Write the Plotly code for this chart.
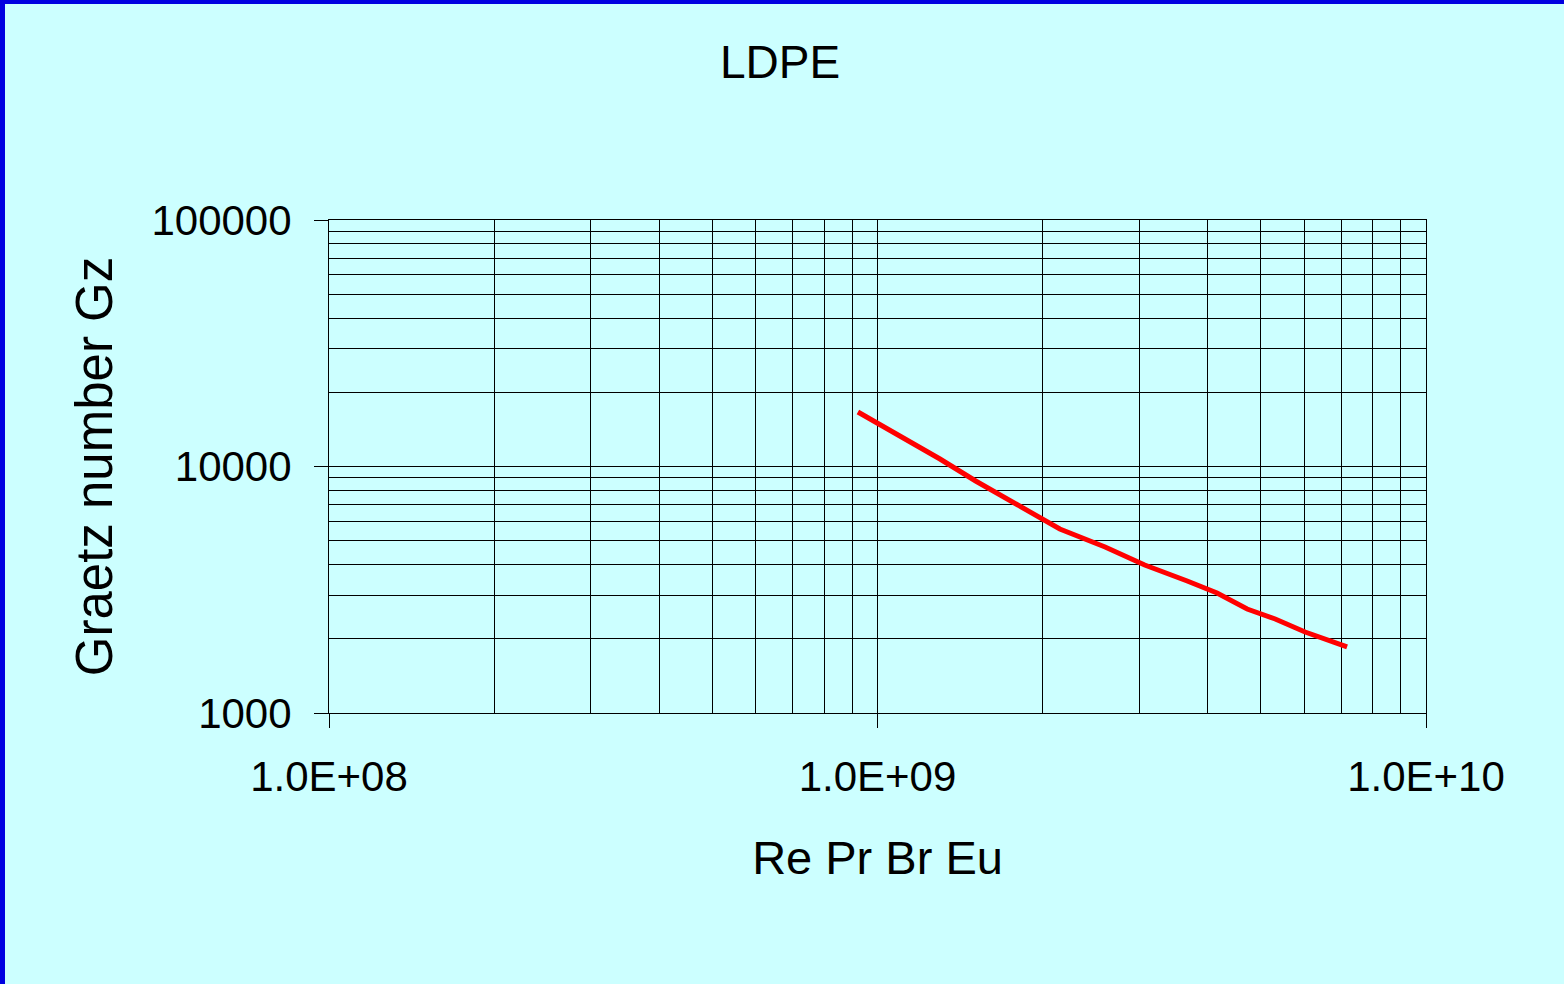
import plotly.graph_objects as go

# Data (log-log)
re_pr_br_eu = [9.21e8, 1.10e9, 1.30e9, 1.51e9, 1.77e9, 2.15e9, 2.60e9, 3.07e9,
               3.67e9, 4.16e9, 4.72e9, 5.31e9, 6.02e9, 7.18e9]
graetz = [16640, 13300, 10725, 8735, 7178, 5578, 4714, 3985,
          3432, 3068, 2642, 2406, 2131, 1853]

x_major = [1e8, 1e9, 1e10]
x_major_labels = ["1.0E+08", "1.0E+09", "1.0E+10"]
y_major = [1000, 10000, 100000]
y_major_labels = ["1000", "10000", "100000"]
x_minor = [m * d for d in (1e8, 1e9) for m in range(2, 10)]
y_minor = [m * d for d in (1e3, 1e4) for m in range(2, 10)]

W, H = 1564, 984
L, R, T, B = 329, 1426, 220, 713
pw, ph = R - L, B - T

bg = "#CCFFFF"
grid = "#000000"
tick_font = dict(family="Liberation Sans, Arial", size=42, color="black")
title_font = dict(family="Liberation Sans, Arial", size=46, color="black")

fig = go.Figure()
fig.add_trace(go.Scatter(x=re_pr_br_eu, y=graetz, mode="lines",
                         line=dict(color="#FF0000", width=5), showlegend=False))

fig.update_layout(
    width=W, height=H,
    margin=dict(l=L, r=W - R, t=T, b=H - B),
    paper_bgcolor=bg, plot_bgcolor=bg,
    title=dict(text="LDPE", font=title_font, x=780 / W, xanchor="center",
               y=1 - 62 / H, yanchor="middle", xref="container", yref="container"),
)

fig.update_xaxes(
    type="log", range=[8, 10],
    tickvals=x_major, ticktext=x_major_labels,
    ticks="outside", ticklen=14, tickcolor=grid, tickwidth=1,
    ticklabelstandoff=13,
    showgrid=True, gridcolor=grid, gridwidth=1,
    minor=dict(tickvals=x_minor, showgrid=True, gridcolor=grid, gridwidth=1, ticks=""),
    showline=True, linecolor=grid, linewidth=1, mirror=True,
    zeroline=False,
    tickfont=tick_font,
    title=dict(text="Re Pr Br Eu", font=dict(family="Liberation Sans, Arial", size=47, color="black"),
               standoff=41),
)
fig.update_yaxes(
    type="log", range=[3, 5],
    tickvals=y_major, ticktext=y_major_labels,
    ticks="outside", ticklen=14, tickcolor=grid, tickwidth=1,
    ticklabelstandoff=14,
    showgrid=True, gridcolor=grid, gridwidth=1,
    minor=dict(tickvals=y_minor, showgrid=True, gridcolor=grid, gridwidth=1, ticks=""),
    showline=True, linecolor=grid, linewidth=1, mirror=True,
    zeroline=False,
    tickfont=tick_font,
    title=dict(text="Graetz number Gz", font=dict(family="Liberation Sans, Arial", size=51, color="black"),
               standoff=22),
)

# Blue frame on left and top edges of the picture
def px_x(p):
    return (p - L) / pw

def px_y(p):
    return (B - p) / ph

fig.add_shape(type="rect", xref="paper", yref="paper",
              x0=px_x(0), x1=px_x(5), y0=px_y(H), y1=px_y(0),
              fillcolor="#0000E0", line=dict(width=0), layer="above")
fig.add_shape(type="rect", xref="paper", yref="paper",
              x0=px_x(0), x1=px_x(W), y0=px_y(4), y1=px_y(0),
              fillcolor="#0000E0", line=dict(width=0), layer="above")

fig.write_html("out.html", config={"displayModeBar": False},
               post_script="document.body.style.margin='0';")
